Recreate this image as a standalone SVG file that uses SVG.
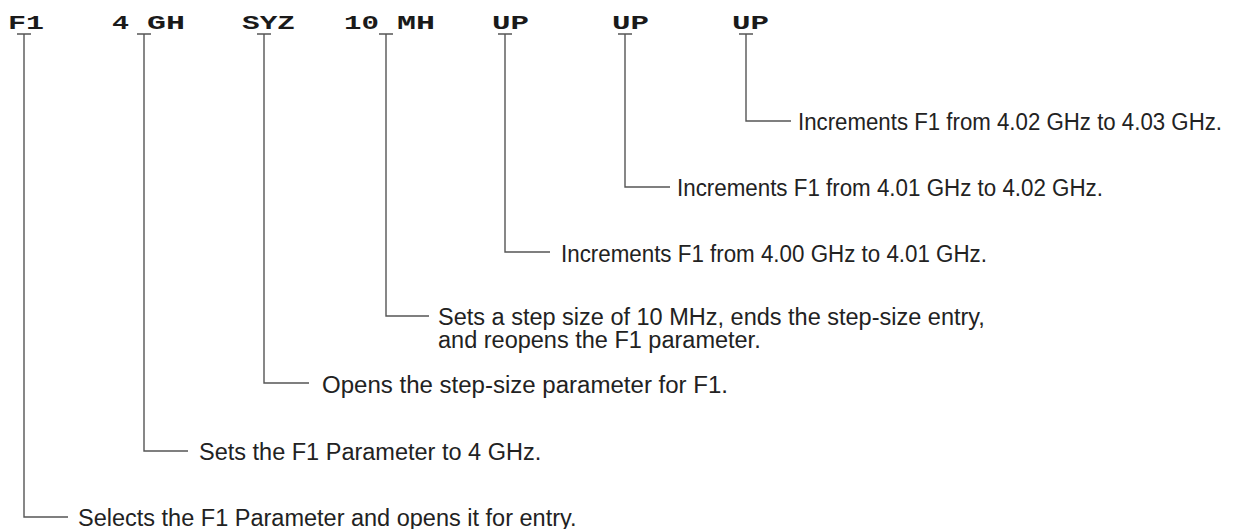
<svg xmlns="http://www.w3.org/2000/svg" width="1238" height="529" viewBox="0 0 1238 529">
<style>
.key{font-family:"Courier New","Liberation Mono",monospace;font-weight:bold;font-size:21px;fill:#1a1a1a}
.lbl{font-family:"Liberation Sans",Arial,Helvetica,sans-serif;font-size:23.5px;fill:#222}
.con{fill:none;stroke:#555;stroke-width:1.4}
</style>
<rect width="1238" height="529" fill="#fff"/>
<g id="keys">
<text class="key" x="8" y="29" textLength="36" lengthAdjust="spacingAndGlyphs">F1</text>
<text class="key" x="112" y="29" textLength="17" lengthAdjust="spacingAndGlyphs">4</text>
<text class="key" x="147" y="29" textLength="38" lengthAdjust="spacingAndGlyphs">GH</text>
<text class="key" x="242" y="29" textLength="53" lengthAdjust="spacingAndGlyphs">SYZ</text>
<text class="key" x="344" y="29" textLength="35" lengthAdjust="spacingAndGlyphs">10</text>
<text class="key" x="397" y="29" textLength="38" lengthAdjust="spacingAndGlyphs">MH</text>
<text class="key" x="492" y="29" textLength="37" lengthAdjust="spacingAndGlyphs">UP</text>
<text class="key" x="612" y="29" textLength="37" lengthAdjust="spacingAndGlyphs">UP</text>
<text class="key" x="732" y="29" textLength="37" lengthAdjust="spacingAndGlyphs">UP</text>
</g>
<g id="connectors">
<path class="con" d="M17 34H31M24 34V517H68"/>
<path class="con" d="M137 34H151M144 34V451H188"/>
<path class="con" d="M257 34H271M264 34V383H309"/>
<path class="con" d="M379 34H393M386 34V316H429"/>
<path class="con" d="M498 34H512M505 34V252H550"/>
<path class="con" d="M618 34H632M625 34V187H670"/>
<path class="con" d="M739 34H753M746 34V121H791"/>
</g>
<g id="n-f1"><text class="lbl" x="78" y="526">Selects the F1 Parameter and opens it for entry.</text></g>
<g id="n-4gh"><text class="lbl" x="199" y="460">Sets the F1 Parameter to 4 GHz.</text></g>
<g id="n-syz"><text class="lbl" x="322" y="393" textLength="406" lengthAdjust="spacingAndGlyphs">Opens the step-size parameter for F1.</text></g>
<g id="n-10mh"><text class="lbl" x="438" y="325">Sets a step size of 10 MHz, ends the step-size entry,<tspan x="438" y="348">and reopens the F1 parameter.</tspan></text></g>
<g id="n-up1"><text class="lbl" x="561" y="262" textLength="426" lengthAdjust="spacingAndGlyphs">Increments F1 from 4.00 GHz to 4.01 GHz.</text></g>
<g id="n-up2"><text class="lbl" x="677" y="196" textLength="426" lengthAdjust="spacingAndGlyphs">Increments F1 from 4.01 GHz to 4.02 GHz.</text></g>
<g id="n-up3"><text class="lbl" x="798" y="130" textLength="424" lengthAdjust="spacingAndGlyphs">Increments F1 from 4.02 GHz to 4.03 GHz.</text></g>
</svg>
